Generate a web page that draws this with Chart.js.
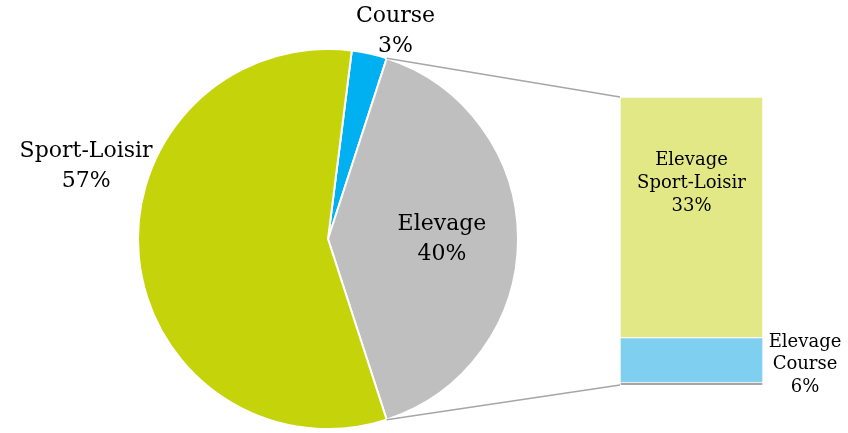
<!DOCTYPE html>
<html lang="fr">
<head>
<meta charset="UTF-8">
<title>Répartition</title>
<script src="https://cdn.jsdelivr.net/npm/chart.js"></script>
<style>
  body { margin: 0; background: #fff; }
  #wrap { position: relative; width: 848px; height: 433px; }
  canvas { position: absolute; left: 0; top: 0; }
</style>
</head>
<body>
<div id="wrap">
  <canvas id="pie" width="848" height="433"></canvas>
  <canvas id="bar" width="848" height="433"></canvas>
</div>
<script>
// pie: whole population
const pieLabels = ['Course', 'Elevage', 'Sport-Loisir'];
const pieValues = [3, 40, 57];
const pieColors = ['#00b0f0', '#bfbfbf', '#c5d30b'];

// bar: breakdown of Elevage (bottom to top)
const barLabels = ['', 'Elevage\nCourse', 'Elevage\nSport-Loisir'];
const barValues = [0.4, 6.2, 33.4];
const barColors = ['#a6a6a6', '#7fd0f0', '#e2e886'];

const FONT = '"DejaVu Serif", "Liberation Serif", serif';

// label spots around the pie: angle in degrees clockwise from top, r as fraction of radius
const pieLabelSpots = [
  { angle: 18, r: 1.15 },
  { angle: 90, r: 0.60 },
  { angle: 286.8, r: 1.33 }
];

function drawLines(ctx, lines, x, y, lh) {
  const top = y - (lines.length - 1) * lh / 2;
  lines.forEach((t, i) => ctx.fillText(t, x, top + i * lh));
}

const pieLabelPlugin = {
  id: 'pieLabels',
  afterDraw(chart) {
    const ctx = chart.ctx;
    const meta = chart.getDatasetMeta(0);
    ctx.save();
    ctx.font = '22px ' + FONT;
    ctx.fillStyle = '#000';
    ctx.textAlign = 'center';
    ctx.textBaseline = 'middle';
    meta.data.forEach((arc, i) => {
      const spot = pieLabelSpots[i];
      const a = (spot.angle - 90) * Math.PI / 180;
      const x = arc.x + Math.cos(a) * arc.outerRadius * spot.r;
      const y = arc.y + Math.sin(a) * arc.outerRadius * spot.r;
      drawLines(ctx, [pieLabels[i], pieValues[i] + '%'], x, y, 30);
    });
    ctx.restore();
  }
};

const pieChart = new Chart(document.getElementById('pie'), {
  type: 'pie',
  data: {
    labels: pieLabels,
    datasets: [{
      data: pieValues,
      backgroundColor: pieColors,
      borderColor: '#fff',
      borderWidth: 2
    }]
  },
  options: {
    responsive: false,
    animation: false,
    rotation: 7.2,
    layout: { padding: { left: 137, right: 329, top: 48, bottom: 3 } },
    plugins: { legend: { display: false }, tooltip: { enabled: false } }
  },
  plugins: [pieLabelPlugin]
});

const barLabelPlugin = {
  id: 'barLabels',
  afterDraw(chart) {
    const ctx = chart.ctx;
    ctx.save();
    // connector lines from the Elevage slice to the bar
    const arc = pieChart.getDatasetMeta(0).data[1];
    const topEl = chart.getDatasetMeta(barValues.length - 1).data[0];
    const botEl = chart.getDatasetMeta(0).data[0];
    const left = topEl.x - topEl.width / 2;
    const p1 = [arc.x + Math.cos(arc.startAngle) * arc.outerRadius, arc.y + Math.sin(arc.startAngle) * arc.outerRadius];
    const p2 = [arc.x + Math.cos(arc.endAngle) * arc.outerRadius, arc.y + Math.sin(arc.endAngle) * arc.outerRadius];
    ctx.strokeStyle = '#a6a6a6';
    ctx.lineWidth = 1.5;
    ctx.beginPath();
    ctx.moveTo(p1[0], p1[1]); ctx.lineTo(left, topEl.y);
    ctx.moveTo(p2[0], p2[1]); ctx.lineTo(left, botEl.base);
    ctx.stroke();

    ctx.font = '18px ' + FONT;
    ctx.fillStyle = '#000';
    ctx.textAlign = 'center';
    ctx.textBaseline = 'middle';
    // Sport-Loisir label inside the bar, a bit above centre
    const ys = topEl;
    drawLines(ctx, [...barLabels[2].split('\n'), Math.round(barValues[2]) + '%'],
      ys.x, ys.y + (ys.base - ys.y) * 0.36, 23);
    // Course label to the right of the bar
    const yc = chart.getDatasetMeta(1).data[0];
    drawLines(ctx, [...barLabels[1].split('\n'), Math.round(barValues[1]) + '%'],
      yc.x + yc.width / 2 + 42, (yc.y + yc.base) / 2 + 5, 22.5);
    ctx.restore();
  }
};

new Chart(document.getElementById('bar'), {
  type: 'bar',
  data: {
    labels: ['Elevage'],
    datasets: barValues.map((v, i) => ({
      label: barLabels[i],
      data: [v],
      backgroundColor: barColors[i],
      borderColor: '#fff',
      borderWidth: 1,
      barPercentage: 1,
      categoryPercentage: 1
    }))
  },
  options: {
    responsive: false,
    animation: false,
    layout: { padding: { left: 620, right: 85, top: 97, bottom: 48 } },
    scales: {
      x: { display: false, stacked: true },
      y: { display: false, stacked: true, min: 0, max: 40 }
    },
    plugins: { legend: { display: false }, tooltip: { enabled: false } }
  },
  plugins: [barLabelPlugin]
});
</script>
</body>
</html>
